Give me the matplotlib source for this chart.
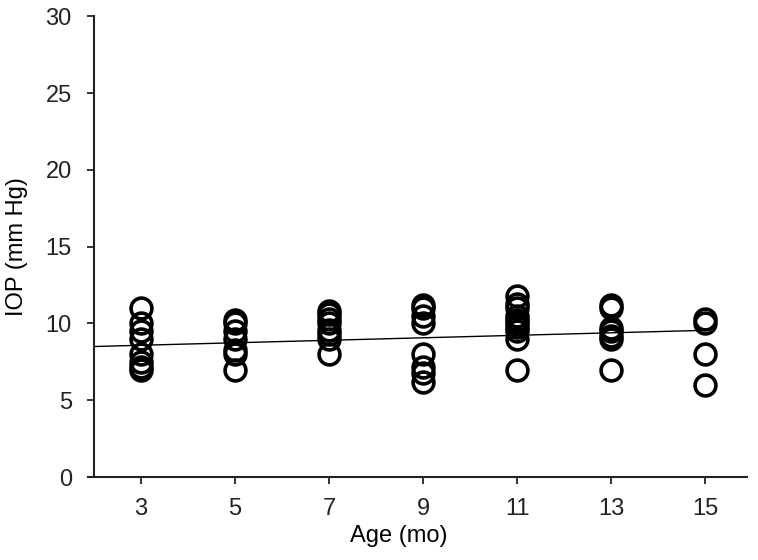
import numpy as np
import matplotlib
matplotlib.use('Agg')
import matplotlib.pyplot as plt

plt.rcParams['font.family'] = ['Liberation Sans', 'DejaVu Sans']

# IOP readings per age group
age_groups = [3, 5, 7, 9, 11, 13, 15]
iop_3 = [11, 10, 9.5, 9, 8, 7.5, 7.2, 7]
iop_5 = [10.2, 10, 9.5, 9, 8.3, 8, 7]
iop_7 = [10.8, 10.6, 10.3, 10, 9.6, 9.3, 9, 8]
iop_9 = [11.2, 11, 10.5, 10, 8, 7.2, 6.8, 6.2]
iop_11 = [11.8, 11.3, 11, 10.5, 10.2, 10, 9.8, 9.5, 9, 7]
iop_13 = [11.2, 11, 9.7, 9.5, 9.2, 9, 7]
iop_15 = [10.3, 10, 8, 6]
all_iop = [iop_3, iop_5, iop_7, iop_9, iop_11, iop_13, iop_15]

# regression line
fit_intercept = 8.34
fit_slope = 0.081
fit_range = [2, 15]

x_ticks = [3, 5, 7, 9, 11, 13, 15]
y_ticks = [0, 5, 10, 15, 20, 25, 30]

fig = plt.figure(figsize=(7.58, 5.6), dpi=100)
ax = fig.add_axes([0.124, 0.148, 0.862, 0.823])

for age, vals in zip(age_groups, all_iop):
    ax.plot([age] * len(vals), vals, 'o', mfc='none', mec='black',
            ms=15, mew=2.6, linestyle='none')

fx = np.array(fit_range)
ax.plot(fx, fit_intercept + fit_slope * fx, color='black', lw=1.0)

ax.set_xlim(2, 15.9)
ax.set_ylim(0, 30)
ax.set_xticks(x_ticks)
ax.set_yticks(y_ticks)
ax.tick_params(direction='out', length=5, width=1.3, labelsize=17,
               colors='#222222')
ax.tick_params(axis='x', pad=10)
ax.tick_params(axis='y', pad=11)
for side in ['top', 'right']:
    ax.spines[side].set_visible(False)
for side in ['left', 'bottom']:
    ax.spines[side].set_linewidth(1.5)
    ax.spines[side].set_color('#222222')
ax.spines['bottom'].set_bounds(1.88, 15.9)

ax.set_xlabel('Age (mo)', fontsize=17)
ax.set_ylabel('IOP (mm Hg)', fontsize=17)
ax.xaxis.set_label_coords(0.466, -0.104)
ax.yaxis.set_label_coords(-0.101, 0.5)

fig.savefig('out.png', dpi=100)
